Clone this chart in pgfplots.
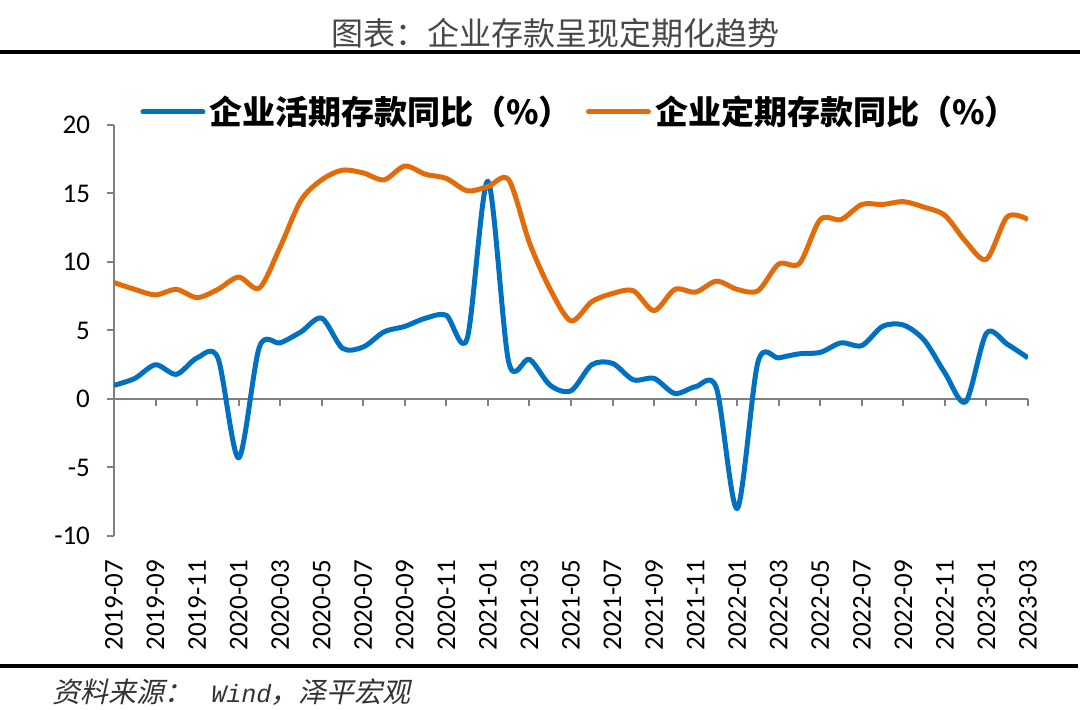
\documentclass[border=0pt]{standalone}
\usepackage{fontspec}
\usepackage{pgfplots}
\pgfplotsset{compat=1.18}
\setmainfont{Carlito}
\newfontfamily\cjk{Noto Sans CJK SC}
\newfontfamily\cjkit{Noto Sans CJK SC}[FakeSlant=0.22]
\newfontfamily\monoit{Liberation Mono}[FakeSlant=0.2]
\definecolor{hqblue}{HTML}{0070C0}
\definecolor{dqorange}{HTML}{E36C0A}
\definecolor{axgray}{HTML}{808080}

% month index 0 = 2019-07 ... 44 = 2023-03
\pgfplotstableread{
m hq dq
0 1.0 8.5
1 1.5 8.0
2 2.5 7.6
3 1.8 8.0
4 3.0 7.4
5 3.0 8.0
6 -4.3 8.9
7 3.8 8.1
8 4.1 11.1
9 4.9 14.5
10 5.9 16.0
11 3.7 16.7
12 3.8 16.5
13 4.9 16.0
14 5.3 17.0
15 5.9 16.4
16 6.1 16.1
17 4.4 15.2
18 15.9 15.5
19 2.7 16.0
20 2.9 11.4
21 1.0 8.0
22 0.6 5.7
23 2.5 7.1
24 2.6 7.7
25 1.4 7.9
26 1.5 6.45
27 0.4 8.0
28 0.9 7.8
29 0.8 8.6
30 -8.0 8.0
31 2.7 7.9
32 3.0 9.85
33 3.3 9.9
34 3.4 13.1
35 4.1 13.1
36 3.9 14.2
37 5.3 14.2
38 5.4 14.4
39 4.3 14.0
40 1.9 13.4
41 -0.2 11.5
42 4.8 10.2
43 4.0 13.3
44 3.0 13.1
}\deposits

\begin{document}
\begin{tikzpicture}
\path[use as bounding box] (0,0) rectangle (540pt,355pt);
\node[font=\cjk\fontsize{16pt}{16pt}\selectfont, text=black!72] at (277.5pt,338.5pt) {图表：企业存款呈现定期化趋势};
\draw[line width=2pt] (0,329pt) -- (540pt,329pt);
\draw[line width=2pt] (0,22pt) -- (539pt,22pt);
\node[anchor=west, font=\cjkit\fontsize{14pt}{14pt}\selectfont, text=black!80] at (22.5pt,9pt)
  {资料来源：\hspace{9pt}{\monoit\fontsize{12.5pt}{12.5pt}\selectfont Wind}，泽平宏观};

\begin{axis}[
  at={(57pt,87pt)}, anchor=south west,
  scale only axis, width=457pt, height=205.5pt,
  xmin=0, xmax=44, ymin=-10, ymax=20,
  axis y line=left, axis x line=middle,
  axis line style={-, draw=axgray, line width=1pt},
  every tick/.style={draw=axgray, line width=1pt},
  major tick length=3.5pt,
  tick align=outside,
  ytick={-10,-5,...,20},
  xtick={0,2,...,44},
  xticklabels={2019-07,2019-09,2019-11,2020-01,2020-03,2020-05,2020-07,2020-09,2020-11,2021-01,2021-03,2021-05,2021-07,2021-09,2021-11,2022-01,2022-03,2022-05,2022-07,2022-09,2022-11,2023-01,2023-03},
  xticklabel style={rotate=90, anchor=east},
  xticklabel shift=73.5pt,
  yticklabel shift=5pt,
  hide obscured x ticks=false,
  hide obscured y ticks=false,
  tick label style={font=\fontsize{13.5pt}{13.5pt}\selectfont, text=black},
  /pgf/number format/assume math mode=true,
  legend columns=2,
  legend style={draw=none, fill=none, at={(0.5,1)}, anchor=center, yshift=6.5pt, xshift=5pt,
    font=\cjk\bfseries\fontsize{16.5pt}{16.5pt}\selectfont,
    /tikz/every even column/.append style={column sep=5pt}},
  legend image code/.code={\draw[#1, line cap=round] (0pt,0pt) -- (30pt,0pt);},
]
\addplot[hqblue, line width=2.5pt, smooth, line join=round] table[x=m, y=hq] {\deposits};
\addlegendentry{企业活期存款同比（\%）}
\addplot[dqorange, line width=2.5pt, smooth, line join=round] table[x=m, y=dq] {\deposits};
\addlegendentry{企业定期存款同比（\%）}
\end{axis}
\end{tikzpicture}
\end{document}
